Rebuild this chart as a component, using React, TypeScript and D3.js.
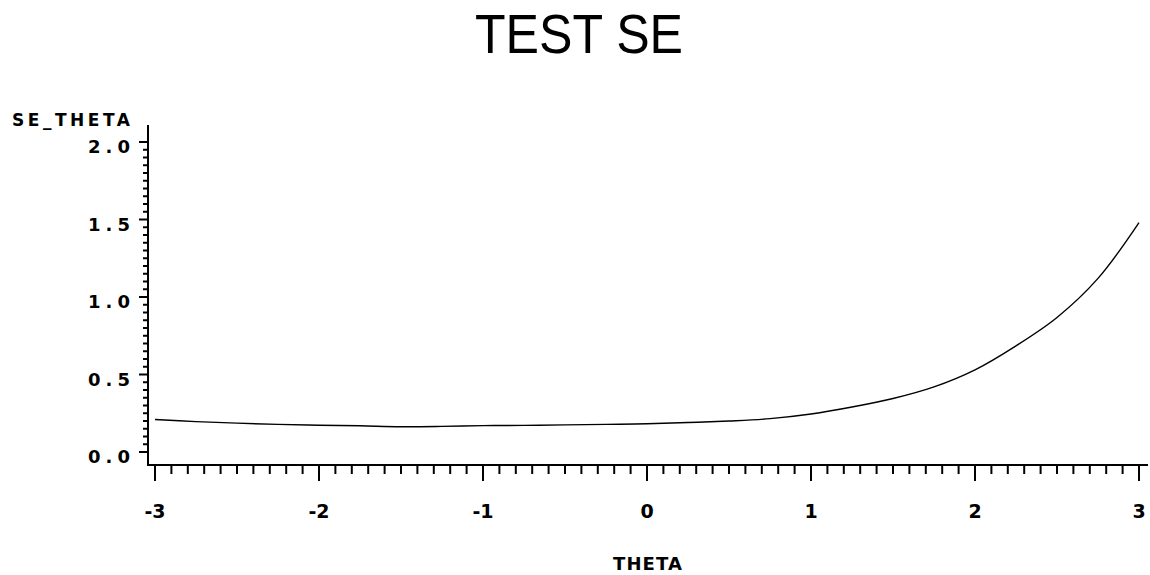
import React from "react";
import * as d3 from "d3";

const theta = [-3, -2.75, -2.5, -2.25, -2, -1.75, -1.5, -1.25, -1, -0.75, -0.5, -0.25, 0, 0.25, 0.5, 0.75, 1, 1.25, 1.5, 1.75, 2, 2.25, 2.5, 2.75, 3];
const seTheta = [0.21, 0.196, 0.186, 0.178, 0.173, 0.169, 0.163, 0.165, 0.17, 0.172, 0.175, 0.178, 0.182, 0.19, 0.2, 0.215, 0.245, 0.29, 0.345, 0.42, 0.53, 0.685, 0.868, 1.12, 1.48];
const xTickLabels = ["-3", "-2", "-1", "0", "1", "2", "3"];
const yTickLabels = ["0.0", "0.5", "1.0", "1.5", "2.0"];

const W = 1150;
const H = 575;

export default function App() {
  const x = d3.scaleLinear().domain([-3, 3]).range([155, 1139]);
  const y = d3.scaleLinear().domain([0, 2]).range([452, 142]);
  const axisX = 148;
  const axisY = 465;
  const line = d3
    .line<number>()
    .x((_, i) => x(theta[i]))
    .y((d) => y(d))
    .curve(d3.curveCatmullRom.alpha(0.5));
  const xMinor = d3.range(-30, 31).map((i) => i / 10);
  const yMinor = d3.range(0, 41).map((i) => i / 20);
  const labelFont = "'DejaVu Sans', sans-serif";
  return (
    <svg
      width={W}
      height={H}
      style={{ position: "absolute", left: 0, top: 0, background: "#fff" }}
    >
      <text
        x={579}
        y={53}
        textAnchor="middle"
        fontFamily="'Liberation Sans', Arial, sans-serif"
        fontSize={55}
        textLength={208}
        lengthAdjust="spacingAndGlyphs"
        fill="#000"
      >
        TEST SE
      </text>
      <text
        x={12}
        y={126}
        fontFamily={labelFont}
        fontWeight="bold"
        fontSize={17}
        textLength={118}
        lengthAdjust="spacing"
        fill="#000"
      >
        SE_THETA
      </text>
      <line x1={axisX} x2={axisX} y1={125} y2={axisY + 1} stroke="#000" strokeWidth={2} />
      <line x1={axisX - 1} x2={1148} y1={axisY} y2={axisY} stroke="#000" strokeWidth={2} />
      {xMinor.map((v, i) => {
        const major = i % 10 === 0;
        return (
          <line
            key={"xt" + i}
            x1={x(v)}
            x2={x(v)}
            y1={axisY}
            y2={axisY + (major ? 16 : 9)}
            stroke="#000"
            strokeWidth={2}
          />
        );
      })}
      {xTickLabels.map((t) => (
        <text
          key={"xl" + t}
          x={x(+t)}
          y={518}
          textAnchor="middle"
          fontFamily={labelFont}
          fontWeight="bold"
          fontSize={19}
          fill="#000"
        >
          {t}
        </text>
      ))}
      {yMinor.map((v, i) => {
        const major = i % 10 === 0;
        return (
          <line
            key={"yt" + i}
            x1={axisX}
            x2={axisX - (major ? 9 : 5)}
            y1={y(v)}
            y2={y(v)}
            stroke="#000"
            strokeWidth={2}
          />
        );
      })}
      {yTickLabels.map((t) => (
        <text
          key={"yl" + t}
          x={88}
          y={y(+t) + 11}
          fontFamily={labelFont}
          fontWeight="bold"
          fontSize={18}
          textLength={42}
          lengthAdjust="spacing"
          fill="#000"
        >
          {t}
        </text>
      ))}
      <text
        x={613}
        y={570}
        fontFamily={labelFont}
        fontWeight="bold"
        fontSize={18}
        textLength={69}
        lengthAdjust="spacing"
        fill="#000"
      >
        THETA
      </text>
      <path d={line(seTheta) || ""} fill="none" stroke="#000" strokeWidth={1.4} />
    </svg>
  );
}
